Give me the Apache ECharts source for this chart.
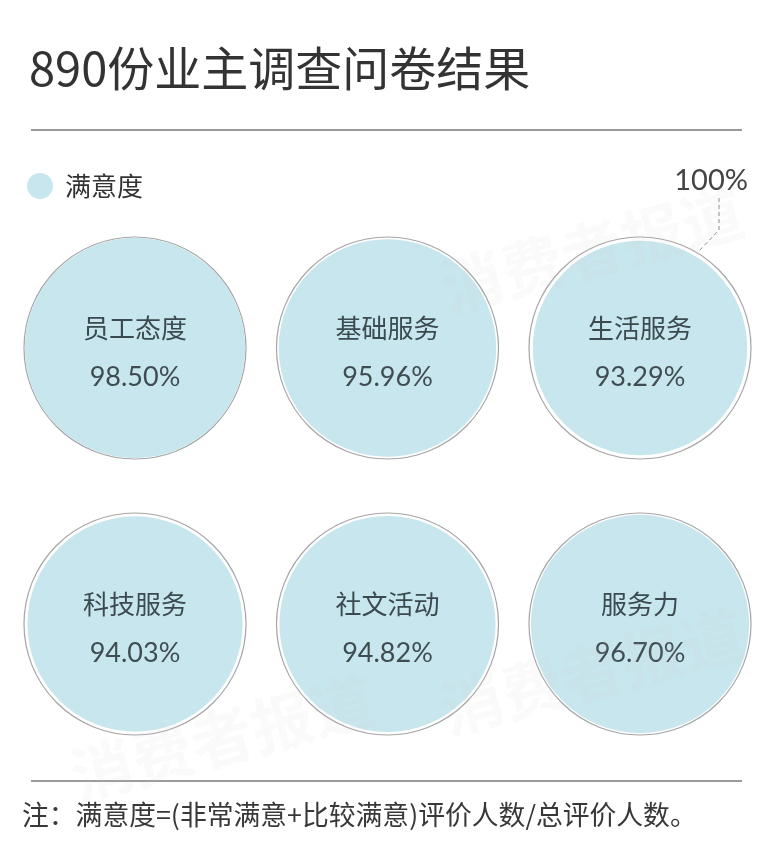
<!DOCTYPE html>
<html>
<head>
<meta charset="utf-8">
<script src="https://cdn.jsdelivr.net/npm/echarts@6/dist/echarts.min.js"></script>
<style>
html,body{margin:0;padding:0;background:#fff;}
#main{width:773px;height:855px;}
</style>
</head>
<body>
<div id="main"></div>
<script>
var categories = ['员工态度', '基础服务', '生活服务', '科技服务', '社文活动', '服务力'];
var satisfaction = [98.50, 95.96, 93.29, 94.03, 94.82, 96.70];
var fullScale = 100;
var colIndex = [0, 1, 2, 0, 1, 2];
var rowIndex = [0, 0, 0, 1, 1, 1];

var FONT = '"Noto Sans CJK SC", "Noto Sans", sans-serif';
var NUMFONT = '"Lato", "Open Sans", "Noto Sans", sans-serif';
var OUTER = 222;

var chart = echarts.init(document.getElementById('main'));

var innerData = categories.map(function (c, i) {
  return { name: c, value: [colIndex[i], rowIndex[i], satisfaction[i]] };
});
var outerData = categories.map(function (c, i) {
  return { name: c, value: [colIndex[i], rowIndex[i], fullScale] };
});

function wm(x, y) {
  return {
    type: 'text', x: x, y: y, rotation: 0.26, z: 100, silent: true,
    style: {
      text: '消费者报道', fontSize: 62, fontWeight: 'bold', fontFamily: FONT,
      fill: 'rgba(205,205,205,0.09)', align: 'center', verticalAlign: 'middle'
    }
  };
}

chart.setOption({
  backgroundColor: '#ffffff',
  animation: false,
  title: {
    text: '890份业主调查问卷结果',
    left: 24, top: 40,
    textStyle: { fontSize: 47, fontWeight: 'normal', color: '#333333', fontFamily: FONT }
  },
  legend: {
    data: ['满意度'],
    left: 22, top: 168,
    icon: 'circle', itemWidth: 26, itemHeight: 26, itemGap: 14,
    textStyle: { fontSize: 26, color: '#333333', fontFamily: FONT, padding: [0, 0, 0, 7] }
  },
  grid: { left: 135, right: 133, top: 348, bottom: 231 },
  xAxis: { type: 'value', min: 0, max: 2, show: false },
  yAxis: { type: 'value', min: 0, max: 1, inverse: true, show: false },
  series: [
    {
      name: '100%',
      type: 'scatter',
      data: outerData,
      symbol: 'circle',
      symbolSize: function (v) { return OUTER * Math.sqrt(v[2] / fullScale); },
      itemStyle: { color: '#ffffff', borderColor: '#8f8f8f', borderWidth: 1.2 },
      z: 1, silent: true
    },
    {
      name: '满意度',
      type: 'scatter',
      data: innerData,
      symbol: 'circle',
      symbolSize: function (v) { return OUTER * Math.sqrt(v[2] / fullScale); },
      itemStyle: { color: '#c8e6ed', opacity: 1 },
      z: 2,
      label: {
        show: true, position: 'inside', offset: [0, 5],
        formatter: function (p) {
          return '{n|' + p.name + '}\n{v|' + p.value[2].toFixed(2) + '%}';
        },
        rich: {
          n: { fontSize: 26, color: '#3b4a50', fontFamily: FONT, lineHeight: 49 },
          v: { fontSize: 27, color: '#3f4d53', fontFamily: NUMFONT, lineHeight: 49 }
        }
      }
    }
  ],
  graphic: [
    { type: 'line', shape: { x1: 31, y1: 130, x2: 742, y2: 130 }, style: { stroke: '#9a9a9a', lineWidth: 2 } },
    { type: 'line', shape: { x1: 31, y1: 781, x2: 742, y2: 781 }, style: { stroke: '#7a7a7a', lineWidth: 1.5 } },
    {
      type: 'text', x: 748, y: 181,
      style: { text: '100%', fontSize: 29, fill: '#444444', fontFamily: NUMFONT, align: 'right', verticalAlign: 'middle' }
    },
    {
      type: 'polyline',
      shape: { points: [[719, 198], [719, 230], [698, 252]] },
      style: { stroke: '#8a8a8a', lineWidth: 1, lineDash: [4, 3], fill: null }
    },
    {
      type: 'text', x: 22, y: 815,
      style: { text: '注：满意度=(非常满意+比较满意)评价人数/总评价人数。', fontSize: 26.8, fill: '#383838', fontFamily: FONT, verticalAlign: 'middle' }
    },
    wm(592, 250),
    wm(592, 672),
    wm(222, 738)
  ]
});
</script>
</body>
</html>
